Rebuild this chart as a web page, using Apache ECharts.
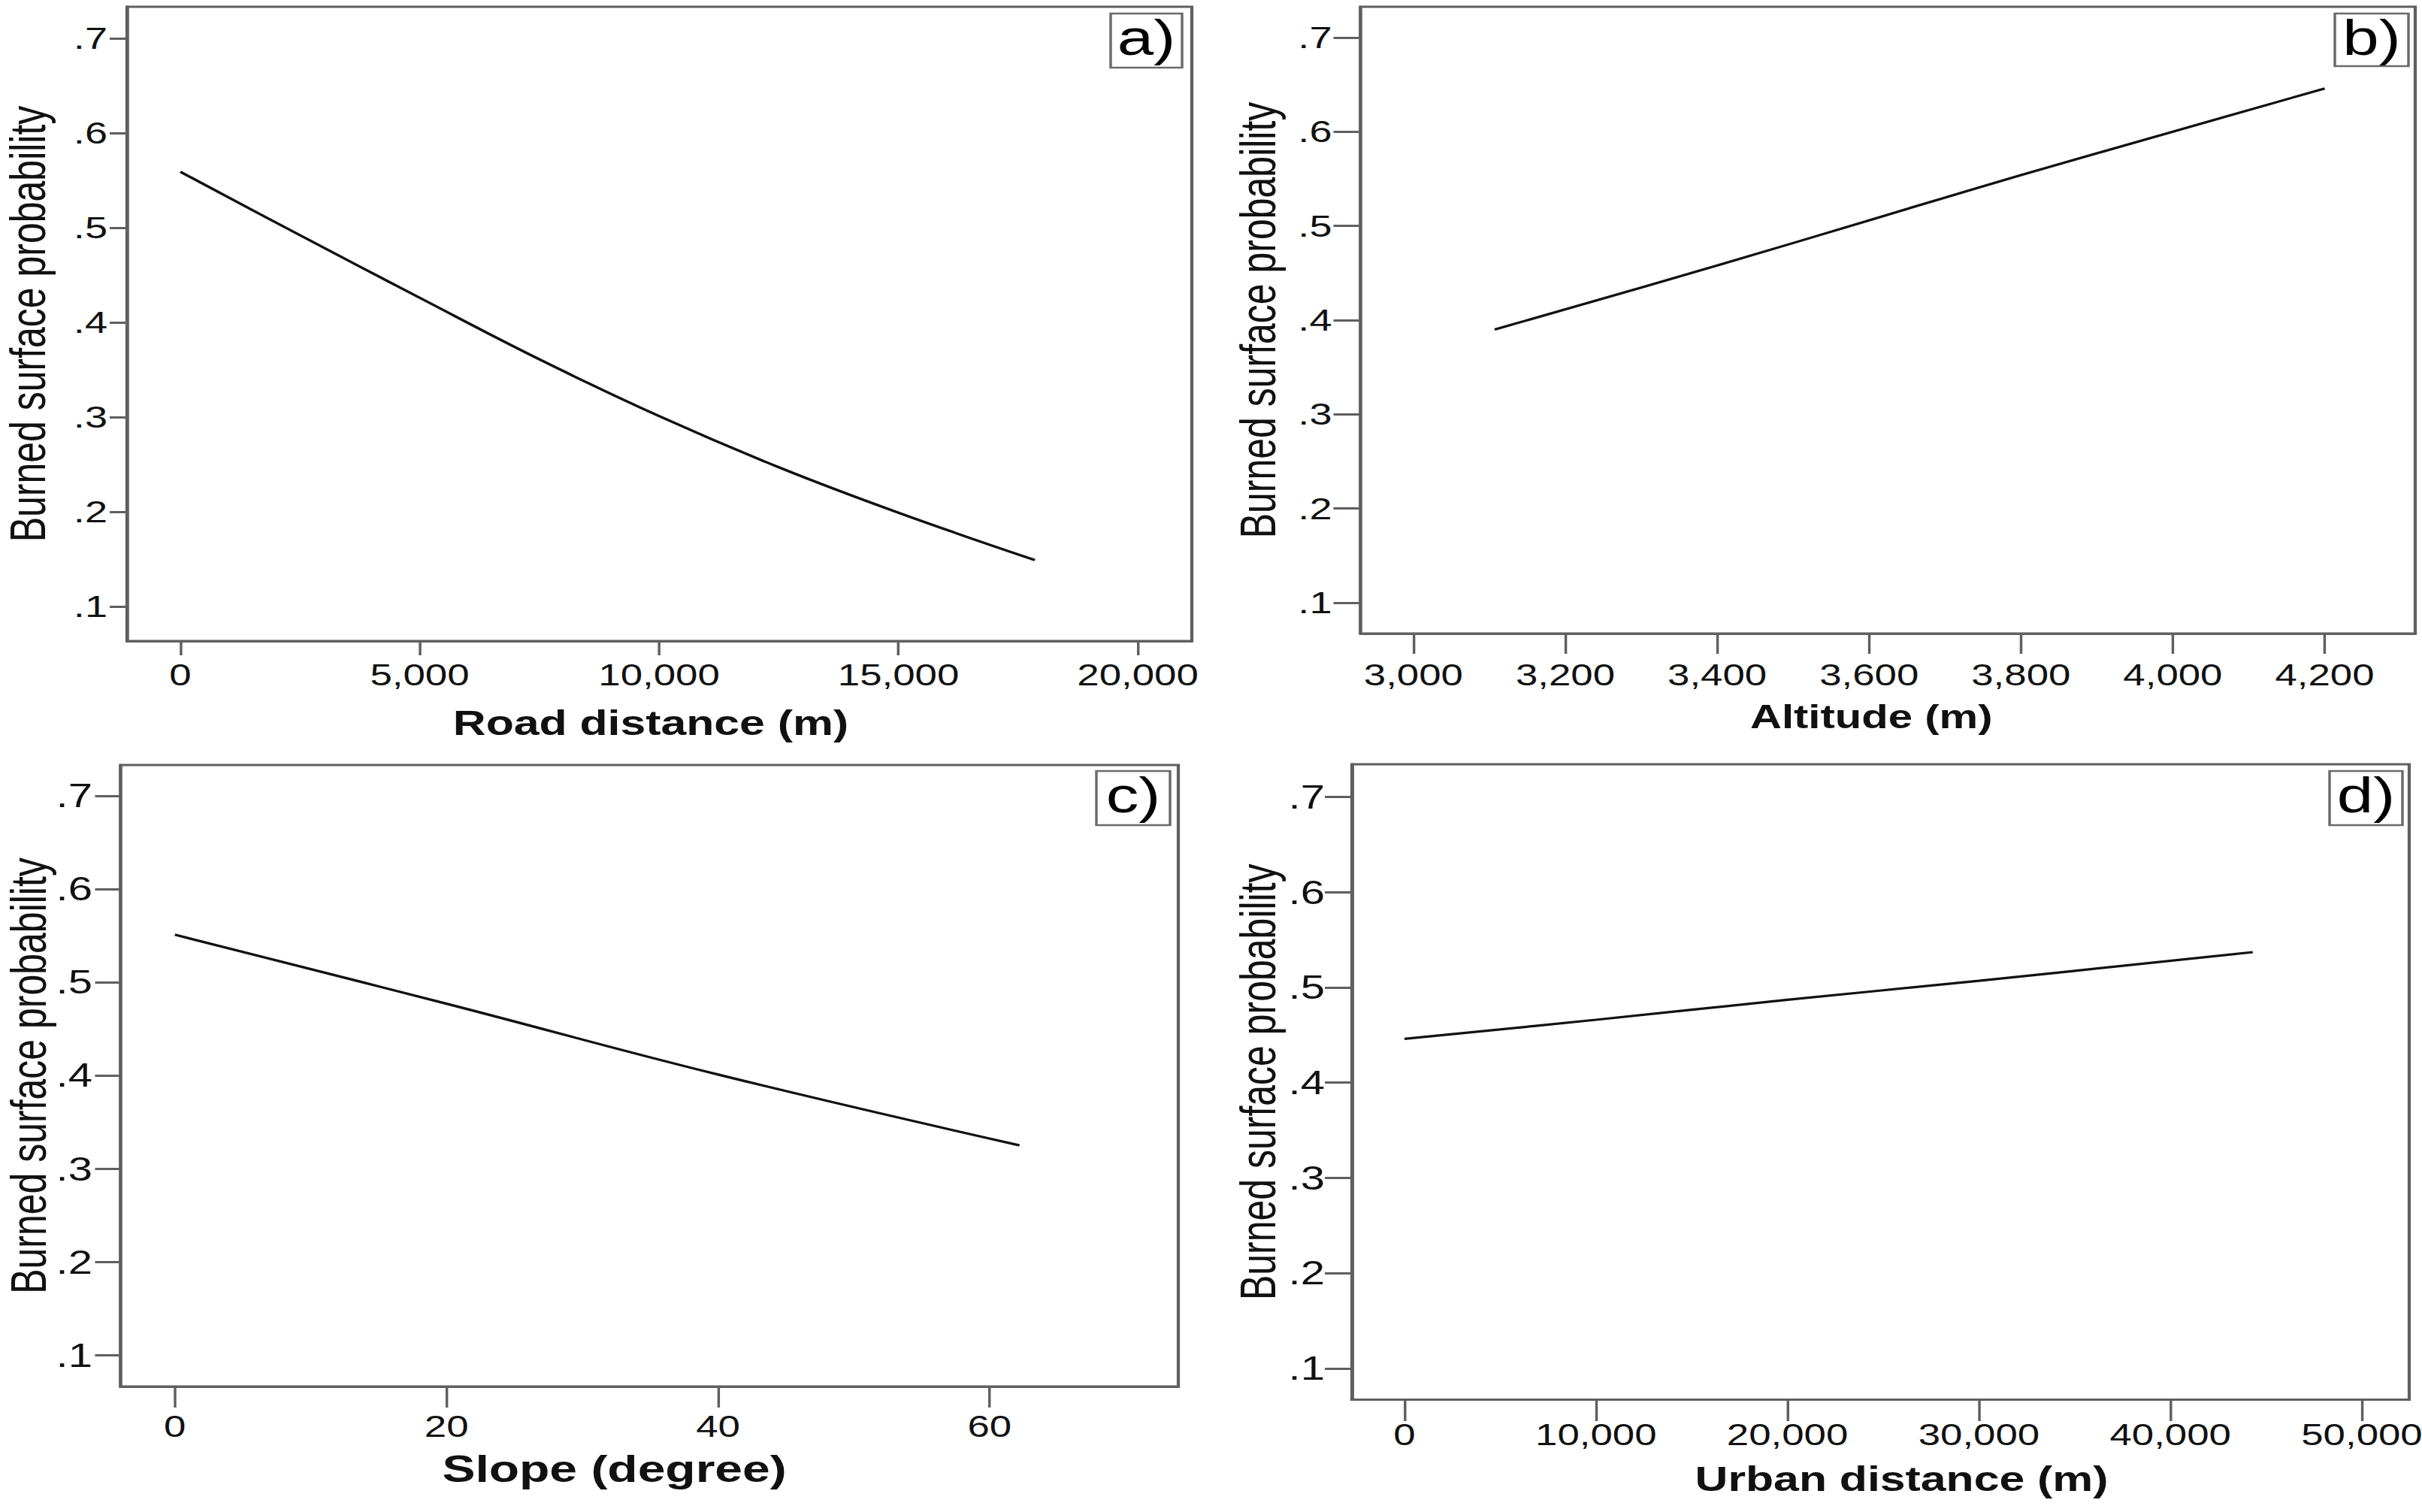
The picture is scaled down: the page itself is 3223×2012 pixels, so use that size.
<!DOCTYPE html>
<html>
<head>
<meta charset="utf-8">
<script src="https://cdn.jsdelivr.net/npm/echarts@6/dist/echarts.min.js"></script>
<style>
html, body { margin:0; padding:0; background:#fff; overflow:hidden; width:3223px; height:2012px; }
#chart { position:absolute; left:0; top:0; height:2012px; transform-origin:0 0; }
</style>
</head>
<body>
<div id="chart"></div>
<script>
// ---------- data ----------
const yTicks = [0.1, 0.2, 0.3, 0.4, 0.5, 0.6, 0.7];

const roadTicks = [0, 5000, 10000, 15000, 20000];
const roadX = [0, 2500, 5000, 7500, 10000, 12500, 15000, 17850];
const roadY = [0.559, 0.492, 0.426, 0.361, 0.301, 0.247, 0.199, 0.149];

const altTicks = [3000, 3200, 3400, 3600, 3800, 4000, 4200];
const altX = [3107, 3400, 3600, 3800, 4000, 4200];
const altY = [0.390, 0.458, 0.506, 0.554, 0.600, 0.646];

const slopeTicks = [0, 20, 40, 60];
const slopeX = [0, 20, 40, 62.2];
const slopeY = [0.551, 0.477, 0.401, 0.325];

const urbanTicks = [0, 10000, 20000, 30000, 40000, 50000];
const urbanX = [0, 10000, 20000, 30000, 44300];
const urbanY = [0.446, 0.466, 0.487, 0.507, 0.537];

const panelLabels = ['a)', 'b)', 'c)', 'd)'];
const xTitles = ['Road distance (m)', 'Altitude (m)', 'Slope (degree)', 'Urban distance (m)'];
const yTitle = 'Burned surface probability';

// ---------- layout ----------
const K = 1.32;            // the reference is stretched horizontally
const W = 3223, H = 2012;
const FONT = "'Liberation Sans', Arial, sans-serif";
const AXIS_COLOR = '#5f5f5f';
const Y_NAME_LH = 40;

const el = document.getElementById('chart');
el.style.width = (W / K) + 'px';
el.style.transform = 'scaleX(' + K + ')';

const panels = [
  { L:169,  R:1586, T:9,    B:853,    xMin:-1115, xMax:21130, yMin:0.0635, yMax:0.7333,
    xTicks:roadTicks,  xs:roadX,  ys:roadY,  smooth:true,
    xNameSize:46, xNameGap:86,   xNameShift:-11.5, xTickLen:19,   yTickLen:23, xLabelMargin:25, yLabelMargin:26,
    yLabelSize:41, yTitleX:43, box:[1478, 18, 95, 72] },
  { L:1810.5, R:3214, T:9,  B:843,    xMin:2930.4, xMax:4319.2, yMin:0.0673, yMax:0.7327,
    xTicks:altTicks,   xs:altX,   ys:altY,   smooth:true,
    xNameSize:44, xNameGap:88.5, xNameShift:-22,   xTickLen:27,   yTickLen:36, xLabelMargin:35, yLabelMargin:38,
    yLabelSize:41, yTitleX:1680, box:[3107, 18, 98, 70] },
  { L:160.5, R:1568, T:1018, B:1845,  xMin:-4.0, xMax:73.9, yMin:0.0663, yMax:0.7331,
    xTicks:slopeTicks, xs:slopeX, ys:slopeY, smooth:true,
    xNameSize:50, xNameGap:84.5, xNameShift:-46.7, xTickLen:28,   yTickLen:34, xLabelMargin:33, yLabelMargin:37.5,
    yLabelSize:44, yTitleX:44, box:[1459, 1026, 98, 72] },
  { L:1799, R:3206, T:1017, B:1862.5, xMin:-2747, xMax:52473, yMin:0.0671, yMax:0.7343,
    xTicks:urbanTicks, xs:urbanX, ys:urbanY, smooth:true,
    xNameSize:46, xNameGap:82.5, xNameShift:28,    xTickLen:28.5, yTickLen:36, xLabelMargin:27, yLabelMargin:36,
    yLabelSize:44, yTitleX:1680, box:[3100, 1026, 97, 72] }
];

function shiftPadding(s) {
  const c = s / K;
  return c < 0 ? [0, -2 * c, 0, 0] : [0, 0, 0, 2 * c];
}

const grids = [], xAxes = [], yAxes = [], series = [], graphics = [];

panels.forEach((p, i) => {
  // gap from axis line to the (rotated) name box edge, in chart units
  const yNameCenter = p.yTitleX / K - 0.093 * 50;
  const yNameGap = p.L / K - (yNameCenter + Y_NAME_LH / 2);

  grids.push({
    left: p.L / K, top: p.T, width: (p.R - p.L) / K, height: p.B - p.T,
    show: true, borderColor: AXIS_COLOR, borderWidth: 3.2, backgroundColor: '#fff',
    containLabel: false, outerBoundsMode: 'none'
  });
  xAxes.push({
    type: 'value', gridIndex: i, min: p.xMin, max: p.xMax,
    axisLine: { show: true, onZero: false, lineStyle: { color: AXIS_COLOR, width: 3.2 } },
    axisTick: { show: true, inside: false, length: p.xTickLen, customValues: p.xTicks,
                lineStyle: { color: AXIS_COLOR, width: 2.6 } },
    axisLabel: { customValues: p.xTicks, margin: p.xLabelMargin, fontSize: 40, color: '#111',
                 fontFamily: FONT, formatter: v => Number(v).toLocaleString('en-US') },
    splitLine: { show: false },
    name: xTitles[i], nameLocation: 'middle', nameGap: p.xNameGap, nameMoveOverlap: false,
    nameTextStyle: { fontSize: p.xNameSize, fontWeight: 'bold', color: '#111', fontFamily: FONT,
                     padding: shiftPadding(p.xNameShift) }
  });
  yAxes.push({
    type: 'value', gridIndex: i, min: p.yMin, max: p.yMax,
    axisLine: { show: true, onZero: false, lineStyle: { color: AXIS_COLOR, width: 3.2 } },
    axisTick: { show: true, inside: false, length: p.yTickLen / K, customValues: yTicks,
                lineStyle: { color: AXIS_COLOR, width: 3 } },
    axisLabel: { customValues: yTicks, margin: p.yLabelMargin / K, fontSize: p.yLabelSize, color: '#111',
                 fontFamily: FONT, formatter: v => Number(v).toFixed(1).replace(/^0/, '') },
    splitLine: { show: false },
    name: yTitle, nameLocation: 'middle', nameRotate: 90, nameGap: yNameGap, nameMoveOverlap: false,
    nameTextStyle: { fontSize: 50, lineHeight: Y_NAME_LH, color: '#111', fontFamily: FONT }
  });
  series.push({
    type: 'line', xAxisIndex: i, yAxisIndex: i,
    data: p.xs.map((x, j) => [x, p.ys[j]]),
    showSymbol: false, symbol: 'none', smooth: p.smooth ? 0.4 : false,
    lineStyle: { color: '#111', width: 3.2 }, silent: true
  });
  const b = p.box;
  graphics.push({
    type: 'rect', z: 100,
    shape: { x: b[0] / K, y: b[1], width: b[2] / K, height: b[3] },
    style: { fill: '#fff', stroke: '#6a6a6a', lineWidth: 2.6 }
  });
  graphics.push({
    type: 'text', z: 101,
    x: (b[0] + b[2] / 2) / K, y: b[1] + b[3] * 0.45,
    style: { text: panelLabels[i], font: '66px ' + FONT, fill: '#000',
             textAlign: 'center', textVerticalAlign: 'middle', align: 'center', verticalAlign: 'middle' }
  });
});

const chart = echarts.init(el, null, { renderer: 'svg' });
chart.setOption({
  animation: false,
  backgroundColor: '#fff',
  grid: grids,
  xAxis: xAxes,
  yAxis: yAxes,
  series: series,
  graphic: graphics
});
</script>
</body>
</html>
